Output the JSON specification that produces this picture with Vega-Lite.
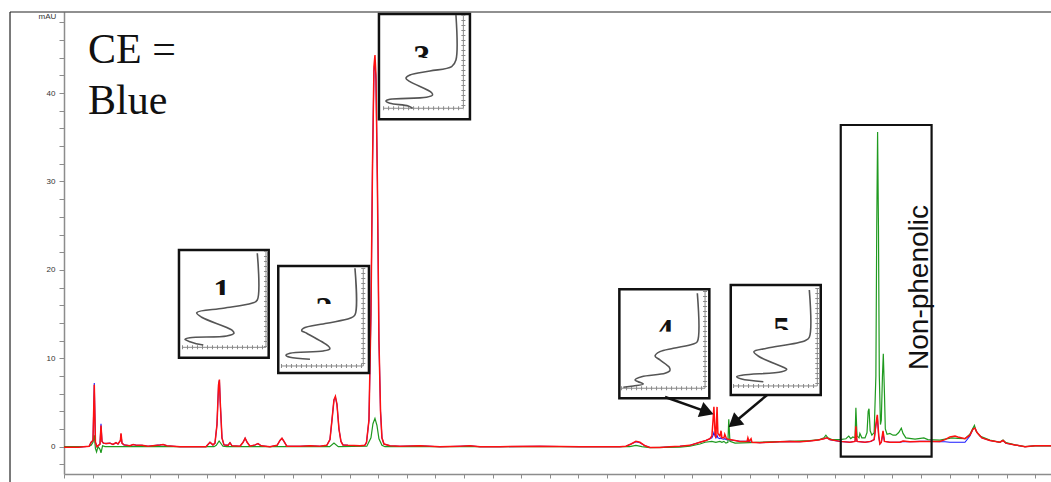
{
  "$schema": "https://vega.github.io/schema/vega-lite/v6.json",
  "width": 987,
  "height": 462,
  "autosize": {"type": "none"},
  "padding": {"left": 64, "top": 12, "right": 0, "bottom": 8},
  "background": "white",
  "config": {"view": {"stroke": null}},
  "datasets": {
    "frame": [
      {"t": -1.89, "t2": 34.55, "v": 49.17, "v2": 49.17},
      {"t": -1.89, "t2": -1.89, "v": 49.17, "v2": -4.0}
    ],
    "red": [
      {"t":0,"v":-0.05},{"t":0.5,"v":-0.05},{"t":0.88,"v":0.05},{"t":0.95,"v":0.5},{"t":1.015,"v":0.7},{"t":1.06,"v":7.0},{"t":1.1,"v":0.5},{"t":1.155,"v":0.0},{"t":1.26,"v":0.3},{"t":1.295,"v":2.4},{"t":1.33,"v":0.6},{"t":1.38,"v":0.4},{"t":1.47,"v":0.35},{"t":1.61,"v":0.4},{"t":1.715,"v":0.25},{"t":1.82,"v":0.45},{"t":1.89,"v":0.3},{"t":1.975,"v":0.7},{"t":1.995,"v":1.5},{"t":2.03,"v":0.4},{"t":2.1,"v":0.2},{"t":2.31,"v":0.1},{"t":2.42,"v":0.25},{"t":2.55,"v":0.15},{"t":2.73,"v":0.15},{"t":2.94,"v":0.05},{"t":3.36,"v":0.2},{"t":3.47,"v":0.25},{"t":3.6,"v":0.1},{"t":4.06,"v":0.0},{"t":4.97,"v":0.0},{"t":5.11,"v":0.5},{"t":5.215,"v":0.2},{"t":5.285,"v":0.4},{"t":5.355,"v":2.5},{"t":5.41,"v":7.0},{"t":5.44,"v":7.6},{"t":5.47,"v":5.0},{"t":5.53,"v":1.0},{"t":5.6,"v":0.2},{"t":5.74,"v":0.15},{"t":5.81,"v":0.45},{"t":5.88,"v":0.1},{"t":6.16,"v":0.05},{"t":6.27,"v":0.5},{"t":6.34,"v":0.95},{"t":6.41,"v":0.5},{"t":6.51,"v":0.05},{"t":6.69,"v":0.2},{"t":6.79,"v":0.35},{"t":6.9,"v":0.1},{"t":7.21,"v":0.0},{"t":7.46,"v":0.15},{"t":7.56,"v":0.7},{"t":7.63,"v":0.95},{"t":7.7,"v":0.6},{"t":7.8,"v":0.05},{"t":8.26,"v":0.05},{"t":8.61,"v":0.1},{"t":8.96,"v":0.05},{"t":9.2,"v":0.15},{"t":9.31,"v":0.8},{"t":9.38,"v":3.0},{"t":9.45,"v":5.3},{"t":9.5,"v":5.7},{"t":9.555,"v":4.8},{"t":9.625,"v":2.0},{"t":9.695,"v":0.6},{"t":9.765,"v":0.2},{"t":9.94,"v":0.15},{"t":10.36,"v":0.1},{"t":10.53,"v":0.15},{"t":10.59,"v":0.5},{"t":10.675,"v":3.0},{"t":10.745,"v":15},{"t":10.8,"v":32},{"t":10.85,"v":43},{"t":10.885,"v":44.3},{"t":10.92,"v":42},{"t":10.97,"v":30},{"t":11.025,"v":12},{"t":11.08,"v":4},{"t":11.13,"v":1.0},{"t":11.2,"v":0.3},{"t":11.41,"v":0.1},{"t":11.76,"v":0.05},{"t":12.46,"v":0.1},{"t":13.16,"v":0.0},{"t":13.86,"v":0.05},{"t":14.21,"v":0.1},{"t":14.56,"v":0.0},{"t":15.26,"v":0.0},{"t":16.66,"v":0.05},{"t":18.06,"v":0.0},{"t":19.46,"v":0.0},{"t":19.67,"v":0.05},{"t":19.85,"v":0.3},{"t":20.02,"v":0.6},{"t":20.16,"v":0.5},{"t":20.34,"v":0.1},{"t":20.51,"v":-0.1},{"t":20.86,"v":-0.1},{"t":21.21,"v":0.0},{"t":21.56,"v":0.05},{"t":21.91,"v":0.15},{"t":22.26,"v":0.5},{"t":22.47,"v":0.7},{"t":22.61,"v":0.9},{"t":22.68,"v":1.2},{"t":22.72,"v":3.0},{"t":22.75,"v":4.5},{"t":22.79,"v":1.5},{"t":22.82,"v":1.0},{"t":22.86,"v":4.5},{"t":22.89,"v":1.5},{"t":22.96,"v":1.2},{"t":23.0,"v":1.8},{"t":23.03,"v":1.0},{"t":23.1,"v":1.0},{"t":23.13,"v":1.4},{"t":23.19,"v":0.9},{"t":23.31,"v":0.8},{"t":23.49,"v":0.7},{"t":23.66,"v":0.6},{"t":23.91,"v":0.6},{"t":23.94,"v":1.0},{"t":23.98,"v":0.6},{"t":24.05,"v":0.9},{"t":24.08,"v":0.5},{"t":24.36,"v":0.45},{"t":24.71,"v":0.5},{"t":25.06,"v":0.55},{"t":25.41,"v":0.6},{"t":25.76,"v":0.55},{"t":26.11,"v":0.65},{"t":26.39,"v":0.75},{"t":26.6,"v":0.9},{"t":26.71,"v":1.0},{"t":26.81,"v":0.8},{"t":27.16,"v":0.6},{"t":27.51,"v":0.5},{"t":27.69,"v":0.6},{"t":27.72,"v":2.3},{"t":27.76,"v":0.6},{"t":28.04,"v":0.5},{"t":28.24,"v":0.6},{"t":28.36,"v":0.8},{"t":28.42,"v":2.5},{"t":28.47,"v":3.6},{"t":28.52,"v":1.2},{"t":28.56,"v":0.3},{"t":28.61,"v":0.5},{"t":28.67,"v":1.8},{"t":28.72,"v":0.6},{"t":28.91,"v":0.5},{"t":29.26,"v":0.5},{"t":29.37,"v":0.65},{"t":29.61,"v":0.55},{"t":29.96,"v":0.6},{"t":30.31,"v":0.6},{"t":30.66,"v":0.6},{"t":30.84,"v":0.8},{"t":31.01,"v":1.1},{"t":31.19,"v":1.2},{"t":31.29,"v":1.1},{"t":31.54,"v":0.9},{"t":31.71,"v":1.3},{"t":31.82,"v":2.0},{"t":31.89,"v":2.1},{"t":31.96,"v":1.6},{"t":32.13,"v":1.0},{"t":32.41,"v":0.7},{"t":32.76,"v":0.5},{"t":32.87,"v":0.7},{"t":32.97,"v":0.4},{"t":33.29,"v":0.2},{"t":33.64,"v":0.0},{"t":33.99,"v":0.1},{"t":34.55,"v":0.1}
    ],
    "blue": [
      {"t":0,"v":-0.05},{"t":0.5,"v":-0.05},{"t":0.88,"v":0.05},{"t":0.95,"v":0.5},{"t":1.015,"v":0.7},{"t":1.06,"v":7.2},{"t":1.1,"v":0.5},{"t":1.155,"v":0.0},{"t":1.26,"v":0.3},{"t":1.295,"v":2.6},{"t":1.33,"v":0.6},{"t":1.38,"v":0.4},{"t":1.47,"v":0.35},{"t":1.61,"v":0.4},{"t":1.715,"v":0.25},{"t":1.82,"v":0.45},{"t":1.89,"v":0.3},{"t":1.975,"v":0.7},{"t":1.995,"v":1.4},{"t":2.03,"v":0.4},{"t":2.1,"v":0.2},{"t":2.31,"v":0.1},{"t":2.42,"v":0.25},{"t":2.55,"v":0.15},{"t":2.73,"v":0.15},{"t":2.94,"v":0.05},{"t":3.36,"v":0.2},{"t":3.47,"v":0.25},{"t":3.6,"v":0.1},{"t":4.06,"v":0.0},{"t":4.97,"v":0.0},{"t":5.11,"v":0.5},{"t":5.215,"v":0.2},{"t":5.285,"v":0.4},{"t":5.355,"v":2.5},{"t":5.41,"v":7.0},{"t":5.44,"v":7.5},{"t":5.47,"v":5.0},{"t":5.53,"v":1.0},{"t":5.6,"v":0.2},{"t":5.74,"v":0.15},{"t":5.81,"v":0.45},{"t":5.88,"v":0.1},{"t":6.16,"v":0.05},{"t":6.27,"v":0.5},{"t":6.34,"v":0.95},{"t":6.41,"v":0.5},{"t":6.51,"v":0.05},{"t":6.69,"v":0.2},{"t":6.79,"v":0.35},{"t":6.9,"v":0.1},{"t":7.21,"v":0.0},{"t":7.46,"v":0.15},{"t":7.56,"v":0.7},{"t":7.63,"v":0.95},{"t":7.7,"v":0.6},{"t":7.8,"v":0.05},{"t":8.26,"v":0.05},{"t":8.61,"v":0.1},{"t":8.96,"v":0.05},{"t":9.2,"v":0.15},{"t":9.31,"v":0.8},{"t":9.38,"v":3.0},{"t":9.45,"v":5.3},{"t":9.5,"v":5.6},{"t":9.555,"v":4.8},{"t":9.625,"v":2.0},{"t":9.695,"v":0.6},{"t":9.765,"v":0.2},{"t":9.94,"v":0.15},{"t":10.36,"v":0.1},{"t":10.53,"v":0.15},{"t":10.59,"v":0.5},{"t":10.675,"v":3.0},{"t":10.745,"v":15},{"t":10.8,"v":32},{"t":10.85,"v":42.5},{"t":10.885,"v":43.5},{"t":10.92,"v":41.5},{"t":10.97,"v":30},{"t":11.025,"v":12},{"t":11.08,"v":4},{"t":11.13,"v":1.0},{"t":11.2,"v":0.3},{"t":11.41,"v":0.1},{"t":11.76,"v":0.05},{"t":12.46,"v":0.1},{"t":13.16,"v":0.0},{"t":13.86,"v":0.05},{"t":14.21,"v":0.1},{"t":14.56,"v":0.0},{"t":15.26,"v":0.0},{"t":16.66,"v":0.05},{"t":18.06,"v":0.0},{"t":19.46,"v":0.0},{"t":19.67,"v":0.05},{"t":19.85,"v":0.3},{"t":20.02,"v":0.55},{"t":20.16,"v":0.45},{"t":20.34,"v":0.1},{"t":20.51,"v":-0.1},{"t":20.86,"v":-0.1},{"t":21.21,"v":0.0},{"t":21.56,"v":0.05},{"t":21.91,"v":0.15},{"t":22.26,"v":0.5},{"t":22.47,"v":0.7},{"t":22.61,"v":0.9},{"t":22.68,"v":1.0},{"t":22.72,"v":1.3},{"t":22.75,"v":1.6},{"t":22.79,"v":1.2},{"t":22.82,"v":1.0},{"t":22.86,"v":1.3},{"t":22.89,"v":1.0},{"t":22.96,"v":0.9},{"t":23.0,"v":1.0},{"t":23.03,"v":0.9},{"t":23.1,"v":0.85},{"t":23.13,"v":0.9},{"t":23.19,"v":0.8},{"t":23.31,"v":0.75},{"t":23.49,"v":0.7},{"t":23.66,"v":0.6},{"t":23.91,"v":0.6},{"t":24.08,"v":0.5},{"t":24.36,"v":0.45},{"t":24.71,"v":0.5},{"t":25.06,"v":0.55},{"t":25.41,"v":0.6},{"t":25.76,"v":0.55},{"t":26.11,"v":0.65},{"t":26.39,"v":0.75},{"t":26.6,"v":0.9},{"t":26.71,"v":1.0},{"t":26.81,"v":0.8},{"t":27.16,"v":0.6},{"t":27.51,"v":0.5},{"t":27.69,"v":0.6},{"t":27.72,"v":1.2},{"t":27.76,"v":0.6},{"t":28.04,"v":0.5},{"t":28.24,"v":0.6},{"t":28.36,"v":0.8},{"t":28.42,"v":2.4},{"t":28.47,"v":3.4},{"t":28.52,"v":1.2},{"t":28.56,"v":0.3},{"t":28.61,"v":0.5},{"t":28.67,"v":1.5},{"t":28.72,"v":0.6},{"t":28.91,"v":0.5},{"t":29.26,"v":0.5},{"t":29.37,"v":0.6},{"t":29.61,"v":0.55},{"t":29.96,"v":0.6},{"t":30.31,"v":0.6},{"t":30.66,"v":0.55},{"t":30.84,"v":0.55},{"t":31.01,"v":0.5},{"t":31.29,"v":0.5},{"t":31.54,"v":0.5},{"t":31.71,"v":1.2},{"t":31.82,"v":2.0},{"t":31.89,"v":2.1},{"t":31.96,"v":1.6},{"t":32.13,"v":1.0},{"t":32.41,"v":0.7},{"t":32.76,"v":0.5},{"t":32.87,"v":0.7},{"t":32.97,"v":0.4},{"t":33.29,"v":0.2},{"t":33.64,"v":0.0},{"t":33.99,"v":0.1},{"t":34.55,"v":0.1}
    ],
    "green": [
      {"t":0,"v":0.0},{"t":0.88,"v":0.05},{"t":0.95,"v":0.15},{"t":1.015,"v":0.5},{"t":1.06,"v":1.3},{"t":1.1,"v":-0.2},{"t":1.14,"v":-0.6},{"t":1.19,"v":0.0},{"t":1.26,"v":-0.3},{"t":1.295,"v":-0.7},{"t":1.35,"v":0.1},{"t":1.435,"v":0.0},{"t":5.25,"v":0.0},{"t":5.33,"v":0.15},{"t":5.43,"v":0.65},{"t":5.565,"v":0.05},{"t":5.7,"v":0.0},{"t":9.3,"v":0.0},{"t":9.45,"v":0.4},{"t":9.6,"v":0.0},{"t":10.6,"v":0.05},{"t":10.745,"v":1.0},{"t":10.815,"v":2.6},{"t":10.885,"v":3.2},{"t":10.955,"v":2.4},{"t":11.025,"v":0.9},{"t":11.13,"v":0.15},{"t":11.235,"v":0.0},{"t":19.8,"v":0.0},{"t":20.02,"v":0.15},{"t":20.23,"v":0.0},{"t":20.51,"v":-0.1},{"t":21.56,"v":-0.05},{"t":21.91,"v":0.05},{"t":22.26,"v":0.3},{"t":22.44,"v":0.5},{"t":22.68,"v":0.6},{"t":22.82,"v":0.5},{"t":22.96,"v":0.6},{"t":23.03,"v":0.5},{"t":23.1,"v":0.6},{"t":23.17,"v":0.4},{"t":23.24,"v":0.5},{"t":23.27,"v":3.1},{"t":23.31,"v":0.6},{"t":23.49,"v":0.4},{"t":24.01,"v":0.45},{"t":24.71,"v":0.55},{"t":25.41,"v":0.6},{"t":26.11,"v":0.7},{"t":26.46,"v":0.8},{"t":26.6,"v":1.0},{"t":26.67,"v":1.3},{"t":26.74,"v":1.0},{"t":26.88,"v":0.8},{"t":27.16,"v":0.8},{"t":27.37,"v":0.9},{"t":27.47,"v":1.2},{"t":27.54,"v":0.9},{"t":27.61,"v":1.1},{"t":27.69,"v":1.0},{"t":27.72,"v":4.4},{"t":27.76,"v":1.2},{"t":27.83,"v":1.0},{"t":27.86,"v":1.5},{"t":27.93,"v":1.0},{"t":28.04,"v":1.0},{"t":28.11,"v":1.6},{"t":28.15,"v":4.0},{"t":28.18,"v":4.3},{"t":28.22,"v":1.8},{"t":28.28,"v":1.3},{"t":28.36,"v":1.6},{"t":28.42,"v":8},{"t":28.45,"v":25},{"t":28.48,"v":35.6},{"t":28.51,"v":25},{"t":28.54,"v":8},{"t":28.58,"v":2.5},{"t":28.61,"v":3},{"t":28.65,"v":8},{"t":28.68,"v":10.5},{"t":28.72,"v":6},{"t":28.75,"v":2},{"t":28.81,"v":1.4},{"t":28.91,"v":1.5},{"t":29.02,"v":1.3},{"t":29.12,"v":1.3},{"t":29.22,"v":1.6},{"t":29.31,"v":2.1},{"t":29.37,"v":1.5},{"t":29.47,"v":1.0},{"t":29.79,"v":0.85},{"t":30.1,"v":1.0},{"t":30.24,"v":0.8},{"t":30.66,"v":0.75},{"t":30.84,"v":0.85},{"t":31.08,"v":1.0},{"t":31.29,"v":0.95},{"t":31.54,"v":0.9},{"t":31.71,"v":1.4},{"t":31.82,"v":2.1},{"t":31.87,"v":2.4},{"t":31.92,"v":1.8},{"t":32.06,"v":1.2},{"t":32.41,"v":0.75},{"t":32.76,"v":0.5},{"t":32.87,"v":0.75},{"t":32.97,"v":0.45},{"t":33.29,"v":0.2},{"t":33.64,"v":0.0},{"t":33.99,"v":0.1},{"t":34.55,"v":0.1}
    ],
    "npbox": [{"t": 27.19, "t2": 30.37, "v": 36.39, "v2": -1.13}],
    "insets": [
      {"id": 1, "t": 4.025, "t2": 7.165, "v": 22.25, "v2": 10.07},
      {"id": 2, "t": 7.5, "t2": 10.675, "v": 20.44, "v2": 8.34},
      {"id": 3, "t": 11.025, "t2": 14.21, "v": 48.95, "v2": 37.04},
      {"id": 4, "t": 19.44, "t2": 22.59, "v": 17.81, "v2": 5.475},
      {"id": 5, "t": 23.34, "t2": 26.49, "v": 18.29, "v2": 5.85}
    ],
    "nums": [
      {"n": "1", "t": 5.52, "v": 16.37},
      {"n": "2", "t": 9.1, "v": 14.37},
      {"n": "3", "t": 12.52, "v": 42.84},
      {"n": "4", "t": 21.04, "v": 11.84},
      {"n": "5", "t": 25.12, "v": 12.07}
    ],
    "masks": [
      {"t": 5.11, "t2": 5.985, "v": 17.16, "v2": 15.92},
      {"t": 8.68, "t2": 9.52, "v": 16.14, "v2": 14.11},
      {"t": 12.075, "t2": 12.95, "v": 43.97, "v2": 42.5},
      {"t": 20.615, "t2": 21.455, "v": 13.01, "v2": 11.5},
      {"t": 24.71, "t2": 25.55, "v": 13.2, "v2": 11.73}
    ],
    "iaxes": [
      {"t": 7.07, "t2": 7.07, "v": 22.14, "v2": 11.24},
      {"t": 4.13, "t2": 7.07, "v": 11.24, "v2": 11.24},
      {"t": 10.476, "t2": 10.476, "v": 20.21, "v2": 9.13},
      {"t": 7.595, "t2": 10.476, "v": 9.13, "v2": 9.13},
      {"t": 13.98, "t2": 13.98, "v": 48.83, "v2": 38.28},
      {"t": 11.17, "t2": 13.98, "v": 38.28, "v2": 38.28},
      {"t": 22.44, "t2": 22.44, "v": 17.61, "v2": 6.61},
      {"t": 19.5, "t2": 22.44, "v": 6.61, "v2": 6.61},
      {"t": 26.37, "t2": 26.37, "v": 17.95, "v2": 6.87},
      {"t": 23.42, "t2": 26.37, "v": 6.87, "v2": 6.87}
    ],
    "curves": [
      {"id":1,"t":6.766,"v":21.88},{"id":1,"t":6.766,"v":16.59},{"id":1,"t":6.57,"v":16.22},{"id":1,"t":5.576,"v":15.66},{"id":1,"t":4.645,"v":15.16},{"id":1,"t":4.82,"v":14.64},{"id":1,"t":5.87,"v":13.2},{"id":1,"t":5.95,"v":12.83},{"id":1,"t":5.695,"v":12.52},{"id":1,"t":4.41,"v":12.33},{"id":1,"t":4.235,"v":12.15},{"id":1,"t":4.41,"v":11.88},{"id":1,"t":4.876,"v":11.5},
      {"id":2,"t":10.185,"v":20.18},{"id":2,"t":10.185,"v":14.9},{"id":2,"t":10.01,"v":14.52},{"id":2,"t":9.195,"v":13.96},{"id":2,"t":8.376,"v":13.39},{"id":2,"t":8.32,"v":13.12},{"id":2,"t":8.495,"v":12.83},{"id":2,"t":9.251,"v":11.39},{"id":2,"t":9.31,"v":11.09},{"id":2,"t":9.076,"v":10.83},{"id":2,"t":7.91,"v":10.57},{"id":2,"t":7.77,"v":10.34},{"id":2,"t":7.91,"v":10.11},{"id":2,"t":8.61,"v":9.89},
      {"id":3,"t":13.72,"v":48.83},{"id":3,"t":13.72,"v":43.74},{"id":3,"t":13.57,"v":42.99},{"id":3,"t":12.81,"v":42.5},{"id":3,"t":12.11,"v":42.05},{"id":3,"t":11.97,"v":41.67},{"id":3,"t":12.11,"v":41.29},{"id":3,"t":12.87,"v":40.04},{"id":3,"t":12.9,"v":39.78},{"id":3,"t":12.69,"v":39.52},{"id":3,"t":11.41,"v":39.3},{"id":3,"t":11.27,"v":39.11},{"id":3,"t":11.41,"v":38.85},{"id":3,"t":12.05,"v":38.54},{"id":3,"t":12.2,"v":38.28},
      {"id":4,"t":22.17,"v":17.35},{"id":4,"t":22.17,"v":11.88},{"id":4,"t":22.03,"v":11.62},{"id":4,"t":21.33,"v":11.13},{"id":4,"t":20.86,"v":10.75},{"id":4,"t":20.69,"v":10.26},{"id":4,"t":20.86,"v":9.81},{"id":4,"t":21.19,"v":8.98},{"id":4,"t":21.21,"v":8.6},{"id":4,"t":21.04,"v":8.3},{"id":4,"t":20.22,"v":7.92},{"id":4,"t":19.99,"v":7.55},{"id":4,"t":20.1,"v":7.35},{"id":4,"t":20.28,"v":7.09},{"id":4,"t":19.93,"v":6.87},{"id":4,"t":19.58,"v":6.72},
      {"id":5,"t":26.09,"v":17.73},{"id":5,"t":26.09,"v":12.38},{"id":5,"t":25.94,"v":11.99},{"id":5,"t":24.6,"v":11.13},{"id":5,"t":24.15,"v":10.75},{"id":5,"t":24.3,"v":10.26},{"id":5,"t":25.18,"v":8.98},{"id":5,"t":25.3,"v":8.76},{"id":5,"t":25.12,"v":8.48},{"id":5,"t":23.78,"v":8.11},{"id":5,"t":23.55,"v":7.92},{"id":5,"t":23.72,"v":7.66},{"id":5,"t":24.48,"v":7.35}
    ],
    "arrows": [
      {"t": 21.04, "v": 5.62, "t2": 22.51, "v2": 3.93},
      {"t": 24.61, "v": 5.85, "t2": 23.45, "v2": 2.7}
    ],
    "heads": [
      {"t": 22.51, "v": 3.93, "a": 20},
      {"t": 23.45, "v": 2.7, "a": 140}
    ],
    "ce": [
      {"label": "CE =", "t": 0.84, "v": 43.4},
      {"label": "Blue", "t": 0.84, "v": 37.63}
    ],
    "np": [{"label": "Non-phenolic", "t": 30.24, "v": 18.01}]
  },
  "encoding": {
    "x": {
      "field": "t", "type": "quantitative",
      "scale": {"domain": [0, 34.55], "nice": false, "zero": false},
      "axis": {
        "values": [0,1,2,3,4,5,6,7,8,9,10,11,12,13,14,15,16,17,18,19,20,21,22,23,24,25,26,27,28,29,30,31,32,33,34],
        "labelExpr": "datum.value % 5 === 0 ? datum.label : ''",
        "title": null, "grid": false, "tickSize": 4, "labelPadding": 2,
        "domainColor": "#8c8c8c", "domainWidth": 1.5, "tickColor": "#8c8c8c",
        "labelColor": "#333333", "labelFont": "Liberation Sans", "labelFontSize": 8,
        "labelOverlap": false, "labelFlush": false
      }
    },
    "y": {
      "field": "v", "type": "quantitative",
      "scale": {"domain": [-3.09, 49.17], "nice": false, "zero": false},
      "axis": {
        "values": [-2,0,2,4,6,8,10,12,14,16,18,20,22,24,26,28,30,32,34,36,38,40,42,44,46,48],
        "labelExpr": "datum.value % 10 === 0 ? datum.label : ''",
        "title": "mAU", "titleAngle": 0, "titleX": -17, "titleY": 6,
        "titleAlign": "center", "titleBaseline": "alphabetic",
        "titleFontSize": 8, "titleFontWeight": "normal", "titleColor": "#333333", "titleFont": "Liberation Sans",
        "grid": false, "tickSize": 5, "labelPadding": 4,
        "domainColor": "#8c8c8c", "domainWidth": 1.5, "tickColor": "#8c8c8c",
        "labelColor": "#333333", "labelFont": "Liberation Sans", "labelFontSize": 8,
        "labelOverlap": false
      }
    }
  },
  "layer": [
    {"data": {"name": "frame"}, "mark": {"type": "rule", "color": "#222222", "strokeWidth": 1.2, "clip": false}, "encoding": {"x2": {"field": "t2"}, "y2": {"field": "v2"}}},
    {"data": {"name": "blue"}, "mark": {"type": "line", "color": "#1a1aff", "strokeWidth": 1.1}, "encoding": {}},
    {"data": {"name": "green"}, "mark": {"type": "line", "color": "#1f9a1f", "strokeWidth": 1.2}, "encoding": {}},
    {"data": {"name": "red"}, "mark": {"type": "line", "color": "#ff1010", "strokeWidth": 1.5}, "encoding": {}},
    {"data": {"name": "npbox"}, "mark": {"type": "rect", "fillOpacity": 0, "stroke": "#111111", "strokeWidth": 2.2}, "encoding": {"x2": {"field": "t2"}, "y2": {"field": "v2"}}},
    {"data": {"name": "insets"}, "mark": {"type": "rect", "fill": "white", "stroke": "#111111", "strokeWidth": 2.5}, "encoding": {"x2": {"field": "t2"}, "y2": {"field": "v2"}}},
    {"data": {"name": "nums"}, "mark": {"type": "text", "font": "Liberation Serif", "fontWeight": "bold", "fontSize": 34, "align": "center", "baseline": "alphabetic", "color": "#111111"}, "encoding": {"text": {"field": "n"}}},
    {"data": {"name": "masks"}, "mark": {"type": "rect", "fill": "white", "strokeWidth": 0}, "encoding": {"x2": {"field": "t2"}, "y2": {"field": "v2"}}},
    {"data": {"name": "iaxes"}, "mark": {"type": "rule", "color": "#8a8a8a", "strokeWidth": 1}, "encoding": {"x2": {"field": "t2"}, "y2": {"field": "v2"}}},
    {"data": {"name": "iaxes"}, "mark": {"type": "rule", "color": "#8a8a8a", "strokeWidth": 4, "strokeDash": [1, 4]}, "encoding": {"x2": {"field": "t2"}, "y2": {"field": "v2"}}},
    {"data": {"name": "curves"}, "mark": {"type": "line", "color": "#555555", "strokeWidth": 1.6, "interpolate": "catmull-rom"}, "encoding": {"detail": {"field": "id"}, "order": {"value": null}}},
    {"data": {"name": "arrows"}, "mark": {"type": "rule", "color": "#111111", "strokeWidth": 2.5}, "encoding": {"x2": {"field": "t2"}, "y2": {"field": "v2"}}},
    {"data": {"name": "heads"}, "mark": {"type": "point", "shape": "triangle-right", "filled": true, "color": "#111111", "size": 256, "opacity": 1}, "encoding": {"angle": {"field": "a", "type": "quantitative", "scale": null}}},
    {"data": {"name": "ce"}, "mark": {"type": "text", "font": "Liberation Serif", "fontSize": 42, "align": "left", "baseline": "alphabetic", "color": "#111111"}, "encoding": {"text": {"field": "label"}}},
    {"data": {"name": "np"}, "mark": {"type": "text", "font": "Liberation Sans", "fontSize": 28, "align": "center", "baseline": "alphabetic", "angle": 270, "color": "#111111"}, "encoding": {"text": {"field": "label"}}}
  ]
}
